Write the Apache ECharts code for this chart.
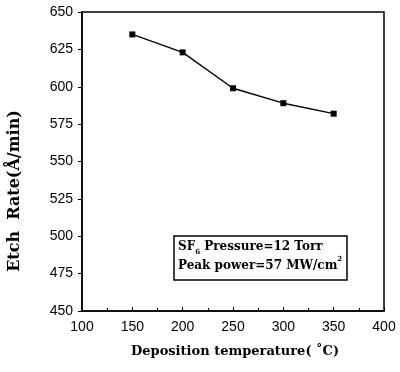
<!DOCTYPE html>
<html>
<head>
<meta charset="utf-8">
<script src="https://cdn.jsdelivr.net/npm/echarts@6/dist/echarts.min.js"></script>
<style>
  html, body { margin: 0; padding: 0; background: #fff; }
  #chart { width: 400px; height: 372px; }
</style>
</head>
<body>
<div id="chart"></div>
<script>
// deposition temperature (°C) vs etch rate (Å/min)
const temps = [150, 200, 250, 300, 350];
const etchRates = [635, 623, 599, 589, 582];

const xTitle = 'Deposition temperature( \u02DAC)';
const yTitle = 'Etch  Rate(\u00C5/min)';

const chart = echarts.init(document.getElementById('chart'));

const titleFont = '"DejaVu Serif", serif';
const tickFont = '"Liberation Sans", Arial, sans-serif';

const option = {
  backgroundColor: '#fff',
  animation: false,
  grid: {
    left: 82,
    top: 12,
    right: 16,
    bottom: 61,
    show: true,
    borderColor: '#000',
    borderWidth: 1.5
  },
  xAxis: {
    type: 'value',
    min: 100,
    max: 400,
    interval: 50,
    axisLine: { lineStyle: { color: '#000', width: 1.5 } },
    axisTick: { inside: true, length: 4, lineStyle: { color: '#000' } },
    minorTick: { show: true, splitNumber: 2, length: 3, lineStyle: { color: '#000' } },
    splitLine: { show: false },
    axisLabel: { color: '#000', fontSize: 14, fontFamily: tickFont, margin: 9 }
  },
  yAxis: {
    type: 'value',
    min: 450,
    max: 650,
    interval: 25,
    axisLine: { lineStyle: { color: '#000', width: 1.5 } },
    axisTick: { inside: false, length: 4, lineStyle: { color: '#000' } },
    splitLine: { show: false },
    axisLabel: { color: '#000', fontSize: 14, fontFamily: tickFont, margin: 9 }
  },
  series: [{
    type: 'line',
    data: temps.map((t, i) => [t, etchRates[i]]),
    symbol: 'rect',
    symbolSize: 6,
    lineStyle: { color: '#000', width: 1.4 },
    itemStyle: { color: '#000' }
  }],
  graphic: [
    {
      type: 'text',
      x: 131,
      y: 345,
      style: {
        text: xTitle,
        fill: '#000',
        font: 'bold 13px ' + titleFont
      }
    },
    {
      type: 'text',
      x: 15,
      y: 191,
      rotation: Math.PI / 2,
      style: {
        text: yTitle,
        fill: '#000',
        font: 'bold 16px ' + titleFont,
        textAlign: 'center',
        textVerticalAlign: 'middle'
      }
    },
    {
      type: 'rect',
      shape: { x: 174, y: 236, width: 173, height: 44 },
      style: { fill: '#fff', stroke: '#000', lineWidth: 1.5 }
    },
    {
      type: 'text',
      x: 178,
      y: 237,
      style: {
        text: '{b|SF}{sub|6}{b| Pressure=12 Torr}\n{b|Peak power=57 MW/cm}{sup|2}',
        rich: {
          b: { font: 'bold 12px ' + titleFont, fill: '#000', lineHeight: 19 },
          sub: { font: 'bold 7px ' + titleFont, fill: '#000', verticalAlign: 'bottom', lineHeight: 14, padding: [6, 0, 0, 0] },
          sup: { font: 'bold 7px ' + titleFont, fill: '#000', verticalAlign: 'top', lineHeight: 14, padding: [0, 0, 6, 0] }
        }
      }
    }
  ]
};

chart.setOption(option);
</script>
</body>
</html>
